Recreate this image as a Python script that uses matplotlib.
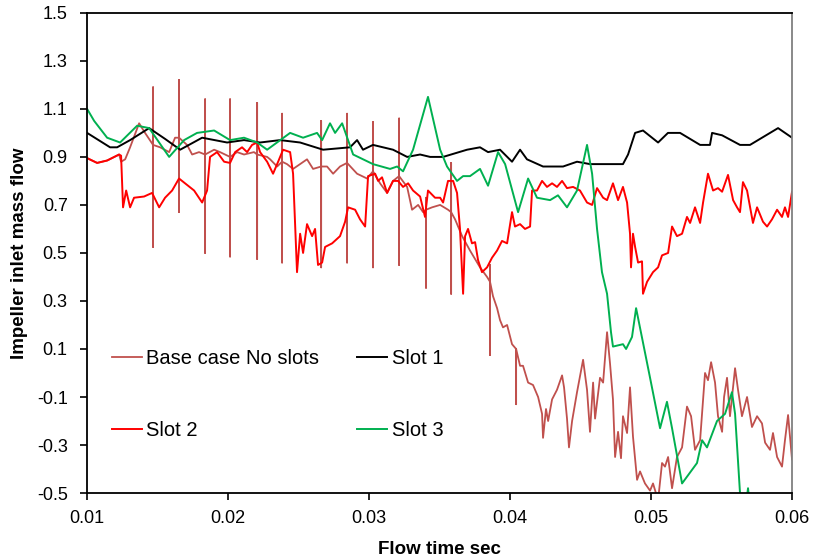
import matplotlib.pyplot as plt

plt.switch_backend('Agg')
plt.rcParams['font.family'] = ['Liberation Sans', 'DejaVu Sans']

# Slot 1 (black)
slot1_t = [0.01, 0.01163, 0.01213, 0.01305, 0.0144, 0.01553, 0.0166, 0.01816, 0.01993,
           0.02113, 0.02227, 0.02369, 0.02511, 0.02674, 0.02865, 0.02915, 0.02957, 0.03028,
           0.0317, 0.0327, 0.03362, 0.03433, 0.03525, 0.03695, 0.03787, 0.03844, 0.03929,
           0.04014, 0.04071, 0.0412, 0.04234, 0.04376, 0.04475, 0.04567, 0.04709, 0.04801,
           0.04837, 0.04887, 0.04943, 0.05007, 0.0505, 0.0512, 0.05206, 0.05348, 0.05418,
           0.05433, 0.05504, 0.05631, 0.05702, 0.05901, 0.06]
slot1_v = [1.00, 0.94, 0.94, 0.97, 1.02, 0.975, 0.93, 0.98, 0.96,
           0.97, 0.96, 0.97, 0.96, 0.93, 0.94, 0.97, 0.93, 0.95,
           0.93, 0.90, 0.91, 0.90, 0.90, 0.93, 0.94, 0.92, 0.93,
           0.88, 0.93, 0.89, 0.86, 0.86, 0.88, 0.87, 0.87, 0.87,
           0.91, 1.00, 1.01, 0.98, 0.96, 1.00, 1.00, 0.95, 0.95,
           1.00, 0.99, 0.95, 0.95, 1.02, 0.98]

# Slot 2 (bright red)
slot2_t = [0.01, 0.01071, 0.01142, 0.01227, 0.01241, 0.01255, 0.01277, 0.01305, 0.01333,
           0.01404, 0.01461, 0.01511, 0.01553, 0.01603, 0.01652, 0.01695, 0.01759, 0.01816,
           0.01851, 0.01872, 0.01922, 0.01972, 0.02014, 0.0205, 0.02099, 0.02135, 0.0217,
           0.02206, 0.02227, 0.02277, 0.02319, 0.02355, 0.0239, 0.0244, 0.02461, 0.02475,
           0.02489, 0.02511, 0.02532, 0.0256, 0.02596, 0.02617, 0.02638, 0.02667, 0.02688,
           0.02738, 0.02794, 0.0283, 0.02851, 0.02901, 0.02936, 0.02972, 0.02993, 0.03043,
           0.03064, 0.03092, 0.03128, 0.0317, 0.03206, 0.03241, 0.03277, 0.03312, 0.03362,
           0.03397, 0.03418, 0.03468, 0.03504, 0.03525, 0.0356, 0.03596, 0.03624, 0.03645,
           0.03667, 0.03681, 0.03702, 0.0373, 0.03752, 0.03773, 0.03801, 0.03837, 0.03872,
           0.03908, 0.03943, 0.03979, 0.04014, 0.04035, 0.04071, 0.04106, 0.04142, 0.04156,
           0.04191, 0.04227, 0.04262, 0.04298, 0.04333, 0.04369, 0.04404, 0.04447, 0.04496,
           0.04546, 0.04582, 0.04617, 0.0466, 0.04688, 0.0473, 0.04766, 0.04801, 0.0483,
           0.04851, 0.04858, 0.04872, 0.04887, 0.04908, 0.04936, 0.04943, 0.04972, 0.05014,
           0.0505, 0.05078, 0.05121, 0.05149, 0.05184, 0.0522, 0.05255, 0.05277, 0.05312,
           0.05348, 0.05369, 0.05404, 0.0544, 0.05475, 0.05504, 0.05546, 0.05582, 0.0561,
           0.05631, 0.05652, 0.05681, 0.05723, 0.05752, 0.05794, 0.05823, 0.05858, 0.05894,
           0.05929, 0.0595, 0.05972, 0.06]
slot2_v = [0.895, 0.875, 0.885, 0.91, 0.905, 0.69, 0.76, 0.69, 0.73,
           0.735, 0.75, 0.69, 0.73, 0.76, 0.81, 0.79, 0.76, 0.71,
           0.76, 0.90, 0.92, 0.88, 0.875, 0.92, 0.94, 0.92, 0.95,
           0.96, 0.92, 0.88, 0.83, 0.88, 0.93, 0.92, 0.83, 0.625,
           0.42, 0.58, 0.50, 0.62, 0.57, 0.60, 0.45, 0.46, 0.525,
           0.54, 0.57, 0.63, 0.69, 0.68, 0.64, 0.61, 0.82, 0.83,
           0.80, 0.815, 0.75, 0.80, 0.80, 0.775, 0.79, 0.76, 0.735,
           0.65, 0.76, 0.73, 0.73, 0.71, 0.80, 0.80, 0.75, 0.60,
           0.33, 0.57, 0.60, 0.54, 0.545, 0.47, 0.42, 0.44, 0.48,
           0.51, 0.55, 0.54, 0.67, 0.61, 0.62, 0.60, 0.61, 0.76,
           0.76, 0.80, 0.775, 0.79, 0.775, 0.80, 0.77, 0.775, 0.76,
           0.71, 0.70, 0.77, 0.73, 0.72, 0.79, 0.72, 0.775, 0.71,
           0.58, 0.44, 0.58, 0.525, 0.46, 0.465, 0.33, 0.38, 0.42,
           0.44, 0.49, 0.50, 0.61, 0.57, 0.58, 0.65, 0.625, 0.69,
           0.625, 0.71, 0.83, 0.76, 0.77, 0.755, 0.825, 0.72, 0.69,
           0.67, 0.795, 0.76, 0.625, 0.69, 0.63, 0.61, 0.64, 0.68,
           0.65, 0.69, 0.65, 0.755]

# Slot 3 (green)
slot3_t = [0.01, 0.0105, 0.01142, 0.01234, 0.01355, 0.0144, 0.01582, 0.01688, 0.0178,
           0.01901, 0.02014, 0.02113, 0.02206, 0.02277, 0.0244, 0.02532, 0.02631, 0.02667,
           0.02723, 0.02759, 0.02809, 0.02851, 0.02887, 0.03028, 0.03149, 0.03199, 0.03241,
           0.03312, 0.03418, 0.03504, 0.03553, 0.03624, 0.03667, 0.03716, 0.03787, 0.03844,
           0.03915, 0.03965, 0.04057, 0.04128, 0.04191, 0.04284, 0.0434, 0.04404, 0.04475,
           0.04546, 0.04582, 0.04617, 0.04652, 0.04688, 0.04716, 0.0473, 0.04801, 0.04823,
           0.04865, 0.04894, 0.04993, 0.05064, 0.05113, 0.05149, 0.0522, 0.05326, 0.05362,
           0.05397, 0.05468, 0.05525, 0.05574, 0.05596, 0.05631, 0.05652, 0.05688, 0.05716]
slot3_v = [1.10, 1.05, 0.98, 0.96, 1.03, 1.02, 0.90, 0.97, 1.00,
           1.01, 0.97, 0.98, 0.96, 0.93, 1.00, 0.98, 1.00, 0.97,
           1.04, 1.00, 1.04, 0.97, 0.91, 0.87, 0.85, 0.86, 0.84,
           0.93, 1.15, 0.93, 0.86, 0.80, 0.82, 0.82, 0.85, 0.78,
           0.92, 0.87, 0.67, 0.81, 0.73, 0.72, 0.74, 0.69, 0.76,
           0.95, 0.83, 0.60, 0.42, 0.33, 0.17, 0.11, 0.12, 0.10,
           0.15, 0.27, -0.02, -0.23, -0.12, -0.23, -0.46, -0.375, -0.28,
           -0.31, -0.20, -0.17, -0.08, -0.17, -0.50, -0.65, -0.48, -0.65]

# Base case (no slots), without the pressure spikes
base_t = [0.01, 0.01071, 0.01142, 0.01227, 0.01241, 0.0127, 0.01305, 0.01369, 0.01411,
          0.01468, 0.01518, 0.01582, 0.01624, 0.01652, 0.01709, 0.01745, 0.01794, 0.01837,
          0.01901, 0.01943, 0.02014, 0.02064, 0.02113, 0.02184, 0.02206, 0.02277, 0.02298,
          0.02348, 0.02383, 0.02418, 0.02461, 0.02511, 0.0256, 0.02603, 0.0266, 0.02702,
          0.02745, 0.02794, 0.02844, 0.02915, 0.02986, 0.03028, 0.03078, 0.03128, 0.0317,
          0.03213, 0.0327, 0.03305, 0.03348, 0.03383, 0.03404, 0.03447, 0.03504, 0.0356,
          0.03582, 0.0361, 0.0366, 0.03716, 0.03787, 0.03837, 0.03858, 0.03879, 0.03908,
          0.03929, 0.0395, 0.03979, 0.04014, 0.04043, 0.04071, 0.04092, 0.04128, 0.04163,
          0.04199, 0.04227, 0.04234, 0.04255, 0.0427, 0.04298, 0.04333, 0.04369, 0.04383,
          0.04404, 0.04418, 0.0444, 0.04475, 0.04518, 0.04546, 0.04567, 0.04589, 0.04603,
          0.04638, 0.0466, 0.04688, 0.04709, 0.0473, 0.04745, 0.04766, 0.04787, 0.04801,
          0.0483, 0.04851, 0.04872, 0.04901, 0.04922, 0.04957, 0.04993, 0.05014, 0.0505,
          0.05078, 0.05099, 0.05121, 0.05149, 0.05184, 0.0522, 0.05255, 0.05284, 0.05312,
          0.05348, 0.05383, 0.05404, 0.05426, 0.05454, 0.05475, 0.05504, 0.05518, 0.05539,
          0.0556, 0.05596, 0.05617, 0.05645, 0.05681, 0.05716, 0.05752, 0.05787, 0.05809,
          0.05844, 0.05865, 0.05894, 0.05929, 0.0595, 0.05972, 0.06]
base_v = [0.895, 0.875, 0.885, 0.91, 0.88, 0.89, 0.94, 1.04, 1.00,
          0.95, 0.94, 0.92, 0.98, 0.98, 0.95, 0.91, 0.92, 0.91,
          0.93, 0.92, 0.90, 0.92, 0.91, 0.92, 0.91, 0.90, 0.89,
          0.86, 0.88, 0.87, 0.85, 0.87, 0.89, 0.85, 0.86, 0.86,
          0.83, 0.86, 0.875, 0.83, 0.81, 0.84, 0.79, 0.75, 0.80,
          0.82, 0.775, 0.68, 0.70, 0.67, 0.68, 0.69, 0.70, 0.68,
          0.67, 0.64, 0.57, 0.51, 0.44, 0.40, 0.38, 0.32, 0.27,
          0.22, 0.19, 0.20, 0.12, 0.10, 0.03, 0.03, -0.04, -0.05,
          -0.10, -0.17, -0.27, -0.15, -0.20, -0.11, -0.07, -0.01, -0.06,
          -0.19, -0.31, -0.20, -0.08, 0.055, -0.07, -0.245, -0.04, -0.19,
          -0.02, -0.04, 0.17, 0.04, -0.11, -0.35, -0.245, -0.355, -0.18,
          -0.25, -0.06, -0.265, -0.445, -0.41, -0.46, -0.49, -0.46, -0.53,
          -0.375, -0.39, -0.35, -0.48, -0.35, -0.31, -0.14, -0.18, -0.32,
          -0.28, 0.00, -0.03, 0.045, -0.04, -0.18, -0.245, -0.10, -0.02,
          -0.18, 0.02, -0.07, -0.18, -0.10, -0.225, -0.18, -0.21, -0.29,
          -0.32, -0.25, -0.35, -0.39, -0.28, -0.175, -0.36]

# Short spikes in the base case: time, upper tip, lower tip
spike_t = [0.01468, 0.01652, 0.01837, 0.02014, 0.02206, 0.02383, 0.0266,
           0.02844, 0.03028, 0.03213, 0.03404, 0.03582, 0.03858, 0.04043]
spike_hi = [1.19, 1.22, 1.14, 1.14, 1.125, 1.08, 1.05,
            1.08, 1.045, 1.06, 0.73, 0.875, 0.45, 0.10]
spike_lo = [0.525, 0.67, 0.50, 0.485, 0.475, 0.46, 0.44,
            0.46, 0.44, 0.45, 0.355, 0.33, 0.075, -0.13]

x_ticks = [0.01, 0.02, 0.03, 0.04, 0.05, 0.06]
x_labels = ['0.01', '0.02', '0.03', '0.04', '0.05', '0.06']
y_ticks = [-0.5, -0.3, -0.1, 0.1, 0.3, 0.5, 0.7, 0.9, 1.1, 1.3, 1.5]
y_labels = ['-0.5', '-0.3', '-0.1', '0.1', '0.3', '0.5', '0.7', '0.9', '1.1', '1.3', '1.5']


def main():
    # merge the spikes into the base case trace
    spikes = dict(zip(spike_t, zip(spike_hi, spike_lo)))
    bt, bv = [], []
    for t, v in zip(base_t, base_v):
        bt.append(t)
        bv.append(v)
        if t in spikes:
            hi, lo = spikes[t]
            bt += [t, t, t]
            bv += [hi, lo, v]

    fig, ax = plt.subplots(figsize=(8.14, 5.59), dpi=100)
    fig.subplots_adjust(left=0.107, right=0.973, top=0.977, bottom=0.118)

    l_base, = ax.plot(bt, bv, color='#c0504d', lw=1.3, label='Base case No slots')
    l_s1, = ax.plot(slot1_t, slot1_v, color='black', lw=1.4, label='Slot 1')
    l_s2, = ax.plot(slot2_t, slot2_v, color='#ff0000', lw=1.4, label='Slot 2')
    l_s3, = ax.plot(slot3_t, slot3_v, color='#00b050', lw=1.4, label='Slot 3')

    ax.set_xlim(0.01, 0.06)
    ax.set_ylim(-0.5, 1.5)
    ax.set_xticks(x_ticks)
    ax.set_xticklabels(x_labels)
    ax.set_yticks(y_ticks)
    ax.set_yticklabels(y_labels)
    ax.tick_params(direction='out', length=5, width=1.2, labelsize=13)
    ax.tick_params(axis='x', pad=7)
    ax.tick_params(axis='y', pad=9)

    for side in ['left', 'bottom', 'top']:
        ax.spines[side].set_linewidth(1.3)
        ax.spines[side].set_color('black')
    ax.spines['right'].set_color('#808080')
    ax.spines['right'].set_linewidth(1.3)

    ax.set_xlabel('Flow time sec', fontsize=13.5, fontweight='bold', labelpad=10)
    ax.set_ylabel('Impeller inlet mass flow', fontsize=13.5, fontweight='bold', labelpad=6)

    ax.legend([l_base, l_s2, l_s1, l_s3],
              ['Base case No slots', 'Slot 2', 'Slot 1', 'Slot 3'],
              ncol=2, frameon=False, fontsize=14.5,
              loc='upper left', bbox_to_anchor=(0.035, 0.299),
              handlelength=1.5, handletextpad=0.2,
              columnspacing=1.9, labelspacing=2.6, borderpad=0, borderaxespad=0)

    plt.savefig('out.png')


if __name__ == "__main__":
    main()
